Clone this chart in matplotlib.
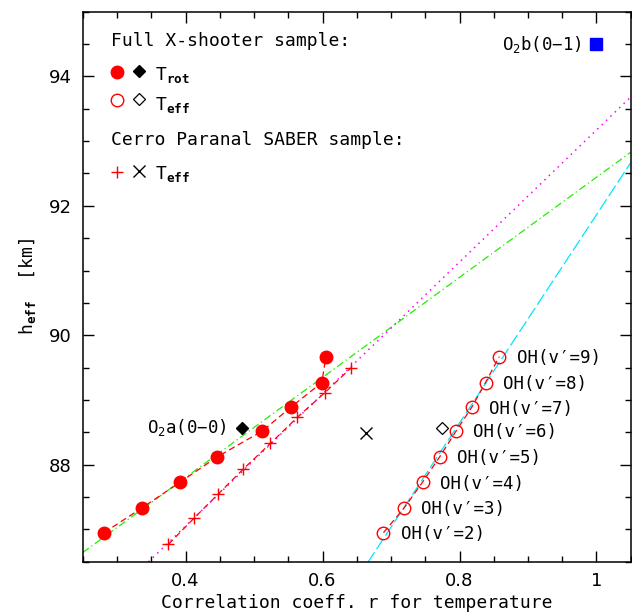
import numpy as np
import matplotlib
matplotlib.use("Agg")
import matplotlib.pyplot as plt
from matplotlib.ticker import MultipleLocator, FuncFormatter

# X-shooter OH bands: effective heights and correlation coefficients
OH_LABELS = ["OH(v\u2032=2)", "OH(v\u2032=3)", "OH(v\u2032=4)", "OH(v\u2032=5)",
             "OH(v\u2032=6)", "OH(v\u2032=7)", "OH(v\u2032=8)", "OH(v\u2032=9)"]
OH_HEFF = [86.95, 87.33, 87.73, 88.12, 88.52, 88.89, 89.27, 89.67]
OH_R_TROT = [0.281, 0.336, 0.392, 0.446, 0.512, 0.554, 0.599, 0.605]
OH_R_TEFF = [0.689, 0.719, 0.746, 0.771, 0.795, 0.818, 0.838, 0.858]

# Cerro Paranal SABER sample
SABER_R = [0.375, 0.412, 0.448, 0.484, 0.524, 0.563, 0.603, 0.642]
SABER_HEFF = [86.77, 87.17, 87.55, 87.93, 88.33, 88.73, 89.11, 89.50]

# O2 bands
O2A_HEFF = 88.57
O2A_R_TROT = 0.483
O2A_R_TEFF = 0.774
O2A_R_SABER = 0.663
O2A_SABER_HEFF = 88.49
O2B_HEFF = 94.5
O2B_R = 1.0

XLIM = (0.25, 1.05)
YLIM = (86.5, 95.0)

MONO = "DejaVu Sans Mono"
plt.rcParams["font.family"] = [MONO]
plt.rcParams["mathtext.fontset"] = "custom"
plt.rcParams["mathtext.rm"] = MONO
plt.rcParams["mathtext.it"] = MONO
plt.rcParams["mathtext.bf"] = MONO + ":bold"

fig = plt.figure(figsize=(6.32, 6.16), dpi=100)
ax = fig.add_axes([0.131, 0.088, 0.867, 0.893])

xs = np.array(XLIM)

# linear fits
c = np.polyfit(OH_R_TROT, OH_HEFF, 1)
ax.plot(xs, np.polyval(c, xs), color="#22ee00", lw=0.9, dashes=(6, 2.5, 1, 2.5))
c = np.polyfit(SABER_R, SABER_HEFF, 1)
ax.plot(xs, np.polyval(c, xs), color="#ff00ff", lw=1.1, dashes=(1, 3))
c = np.polyfit(OH_R_TEFF, OH_HEFF, 1)
ax.plot(xs, np.polyval(c, xs), color="#00e5ff", lw=0.9, dashes=(10, 3))

# connecting dashed lines and markers
ax.plot(OH_R_TROT, OH_HEFF, color="red", lw=0.9, dashes=(5, 3))
ax.plot(SABER_R, SABER_HEFF, color="red", lw=0.9, dashes=(5, 3))
ax.plot(OH_R_TEFF, OH_HEFF, color="red", lw=0.9, dashes=(5, 3))

ax.plot(OH_R_TROT, OH_HEFF, "o", color="red", ms=9, mec="red", ls="none")
ax.plot(OH_R_TEFF, OH_HEFF, "o", mfc="none", mec="red", ms=9, mew=1.0, ls="none")
ax.plot(SABER_R, SABER_HEFF, "+", color="red", ms=9, mew=1.0, ls="none")

ax.plot([O2A_R_TROT], [O2A_HEFF], "D", color="black", ms=6)
ax.plot([O2A_R_TEFF], [O2A_HEFF], "D", mfc="none", mec="black", ms=6, mew=0.9)
ax.plot([O2A_R_SABER], [O2A_SABER_HEFF], "x", color="black", ms=9, mew=1.0)
ax.plot([O2B_R], [O2B_HEFF], "s", color="#0000ff", ms=8.5)

# band labels
for r, h, lab in zip(OH_R_TEFF, OH_HEFF, OH_LABELS):
    ax.annotate(lab, (r, h), xytext=(12.5, -1), textcoords="offset points",
                ha="left", va="center", fontsize=12.5)
ax.annotate("O$_2$a(0\u22120)", (O2A_R_TROT, O2A_HEFF), xytext=(-11, 0),
            textcoords="offset points", ha="right", va="center", fontsize=12.5)
ax.annotate("O$_2$b(0\u22121)", (O2B_R, O2B_HEFF), xytext=(-11, 0),
            textcoords="offset points", ha="right", va="center", fontsize=12.5)

# key
tr = ax.transAxes
ax.text(0.052, 0.937, "Full X-shooter sample:", transform=tr, fontsize=13,
        va="baseline")
ax.plot([0.062], [0.890], "o", color="red", ms=9, transform=tr)
ax.plot([0.102], [0.892], "D", color="black", ms=6, transform=tr)
ax.text(0.131, 0.876, "T$_{\\mathbf{rot}}$", transform=tr, fontsize=13, va="baseline")
ax.plot([0.062], [0.840], "o", mfc="none", mec="red", ms=9, transform=tr)
ax.plot([0.102], [0.842], "D", mfc="none", mec="black", ms=6, mew=0.9, transform=tr)
ax.text(0.131, 0.822, "T$_{\\mathbf{eff}}$", transform=tr, fontsize=13, va="baseline")
ax.text(0.052, 0.758, "Cerro Paranal SABER sample:", transform=tr, fontsize=13,
        va="baseline")
ax.plot([0.062], [0.709], "+", color="red", ms=9, mew=1.0, transform=tr)
ax.plot([0.102], [0.711], "x", color="black", ms=9, mew=1.0, transform=tr)
ax.text(0.131, 0.695, "T$_{\\mathbf{eff}}$", transform=tr, fontsize=13, va="baseline")

ax.set_xlim(*XLIM)
ax.set_ylim(*YLIM)
ax.xaxis.set_major_locator(MultipleLocator(0.2))
ax.xaxis.set_minor_locator(MultipleLocator(0.05))
ax.yaxis.set_major_locator(MultipleLocator(2))
ax.yaxis.set_minor_locator(MultipleLocator(0.5))
ax.xaxis.set_major_formatter(FuncFormatter(lambda v, p: f"{v:g}"))
ax.tick_params(which="both", direction="in", top=True, right=True, width=1.0,
               labelsize=13)
ax.tick_params(which="major", length=8)
ax.tick_params(which="minor", length=4.5)
ax.tick_params(axis="x", pad=7)
ax.tick_params(axis="y", pad=8)
for lab in ax.get_xticklabels() + ax.get_yticklabels():
    lab.set_fontfamily("DejaVu Sans")
for s in ax.spines.values():
    s.set_linewidth(1.1)

ax.set_xlabel("Correlation coeff. r for temperature", fontsize=13, labelpad=3)
ax.set_ylabel("h$_{\\mathbf{eff}}$  [km]", fontsize=13, labelpad=8)

fig.savefig("out.png", dpi=100)
